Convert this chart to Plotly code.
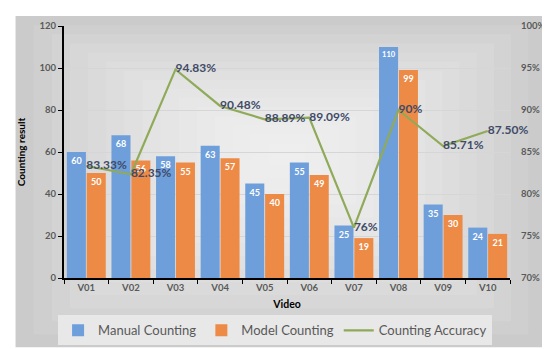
import plotly.graph_objects as go

videos = ["V01", "V02", "V03", "V04", "V05", "V06", "V07", "V08", "V09", "V10"]
manual_counting = [60, 68, 58, 63, 45, 55, 25, 110, 35, 24]
model_counting = [50, 56, 55, 57, 40, 49, 19, 99, 30, 21]
counting_accuracy = [0.8333, 0.8235, 0.9483, 0.9048, 0.8889, 0.8909, 0.76, 0.90, 0.8571, 0.875]
accuracy_labels = ["83.33%", "82.35%", "94.83%", "90.48%", "88.89%", "89.09%", "76%", "90%", "85.71%", "87.50%"]

FONT = "Lato"
W, H = 550, 349
ML, MR, MT, MB = 56, 43, 17, 77
PW, PH = W - ML - MR, H - MT - MB


def px2paper(x, y):
    return (x - ML) / PW, (H - MB - y) / PH


fig = go.Figure()
fig.add_trace(go.Bar(
    x=videos, y=manual_counting, name="Manual Counting",
    marker=dict(color="#6e9fdb", line=dict(width=0)),
    text=manual_counting, textposition="inside", insidetextanchor="end",
    textfont=dict(family=FONT, size=9, color="white", weight="bold"),
    textangle=0,
))
fig.add_trace(go.Bar(
    x=videos, y=model_counting, name="Model Counting",
    marker=dict(color="#ed8a45", line=dict(width=0)),
    text=model_counting, textposition="inside", insidetextanchor="end",
    textfont=dict(family=FONT, size=9, color="white", weight="bold"),
    textangle=0,
))
fig.add_trace(go.Scatter(
    x=videos, y=counting_accuracy, name="Counting Accuracy", yaxis="y2",
    mode="lines+text", line=dict(color="#8faa58", width=2.2),
    text=accuracy_labels, textposition="middle right",
    textfont=dict(family=FONT, size=12, color="#414b68", weight="bold"),
    cliponaxis=False,
))

# background gradient approximation (frame)
shapes = []
fx0, fy0, fx1, fy1 = 7, 7, 543, 342
x0, y1 = px2paper(fx0, fy0)
x1, y0 = px2paper(fx1, fy1)
shapes.append(dict(type="rect", xref="paper", yref="paper", x0=x0, y0=y0, x1=x1, y1=y1,
                   fillcolor="#cbcbcb", line=dict(width=0), layer="below"))
cx, cy = 282, 145
N = 14
for i in range(1, N + 1):
    f = 1 - i / (N + 1)
    ax0 = cx - (cx - fx0) * f
    ax1 = cx + (fx1 - cx) * f
    ay0 = cy - (cy - fy0) * f
    ay1 = cy + (fy1 - cy) * f
    a, b = px2paper(ax0, ay0)
    c, d = px2paper(ax1, ay1)
    shapes.append(dict(type="rect", xref="paper", yref="paper", x0=a, y0=d, x1=c, y1=b,
                       fillcolor="rgba(255,255,255,0.095)", line=dict(width=0), layer="below"))

lx, ly = px2paper(50, 325)

fig.update_layout(
    width=W, height=H,
    margin=dict(l=ML, r=MR, t=MT, b=MB),
    paper_bgcolor="white", plot_bgcolor="rgba(0,0,0,0)",
    barmode="group", bargap=0.11, bargroupgap=0.04,
    font=dict(family=FONT, color="#595959"),
    shapes=shapes,
    showlegend=True,
    legend=dict(orientation="h", x=lx, y=ly, xanchor="left", yanchor="middle",
                bgcolor="#e8e8e8", borderwidth=0,
                font=dict(family=FONT, size=13, color="#595959"),
                itemwidth=30, tracegroupgap=0),
    xaxis=dict(
        showline=True, linecolor="black", linewidth=1.5,
        ticks="outside", tickson="boundaries", ticklen=4, tickcolor="black",
        tickfont=dict(family=FONT, size=9.5, color="#595959", weight="bold"),
        title=dict(text="Video", font=dict(family=FONT, size=10.5, color="black", weight="bold"), standoff=8),
    ),
    yaxis=dict(
        range=[0, 120], dtick=20,
        showline=True, linecolor="black", linewidth=2,
        ticks="outside", ticklen=4, tickcolor="black",
        showgrid=True, gridcolor="#d6d6d6", gridwidth=1, zeroline=False,
        tickfont=dict(family=FONT, size=9.5, color="#595959", weight="bold"),
        title=dict(text="Counting result", font=dict(family=FONT, size=10, color="black", weight="bold"), standoff=12),
    ),
    yaxis2=dict(
        range=[0.70, 1.00], dtick=0.05, tickformat=".0%",
        overlaying="y", side="right", showgrid=False, showline=False, zeroline=False,
        ticks="", ticklabelstandoff=10,
        tickfont=dict(family=FONT, size=9.5, color="#595959", weight="bold"),
    ),
)

fig.write_html("out.html")
